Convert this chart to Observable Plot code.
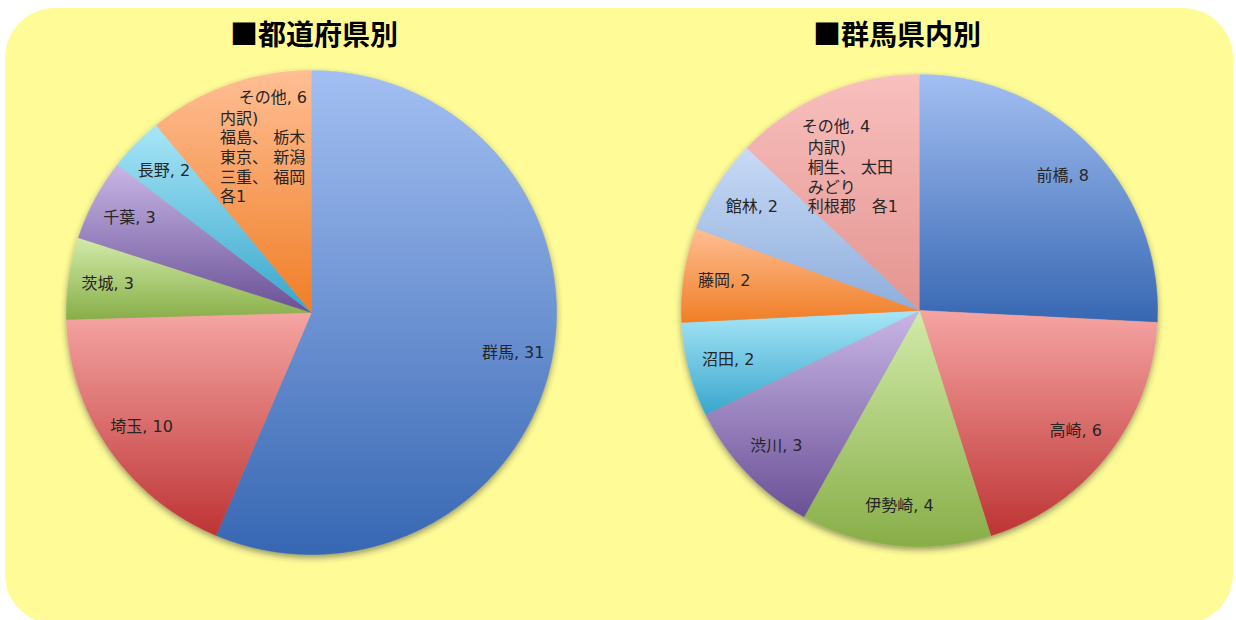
<!DOCTYPE html>
<html><head><meta charset="utf-8">
<script src="https://cdn.jsdelivr.net/npm/d3@7"></script>
<script src="https://cdn.jsdelivr.net/npm/@observablehq/plot@0.6"></script>
<style>
html,body{margin:0;padding:0;background:#fff;width:1236px;height:620px;overflow:hidden;position:relative;}
#bg{position:absolute;left:5px;top:8px;width:1228px;height:616px;border-radius:50px;background:#FFFC98;}
.title{position:absolute;top:13px;font:bold 28px "Noto Sans CJK JP",sans-serif;color:#000;white-space:nowrap;transform:translateX(-50%);line-height:40px;}
.chart{position:absolute;top:0;}
</style></head><body>
<div id="bg"></div>
<div id="t1" class="title" style="left:314px"></div>
<div id="t2" class="title" style="left:897px"></div>
<div id="c1" class="chart" style="left:0px"></div>
<div id="c2" class="chart" style="left:618px"></div>
<script>
// ---- data ----
const titles = ["■都道府県別", "■群馬県内別"];
const prefNames = ["群馬", "埼玉", "茨城", "千葉", "長野", "その他"];
const prefValues = [31, 10, 3, 3, 2, 6];
const prefOtherDetail = ["内訳)", "福島、 栃木", "東京、 新潟", "三重、 福岡", "各1"];
const cityNames = ["前橋", "高崎", "伊勢崎", "渋川", "沼田", "藤岡", "館林", "その他"];
const cityValues = [8, 6, 4, 3, 2, 2, 2, 4];
const cityOtherDetail = ["内訳)", "桐生、 太田", "みどり", "利根郡　各1"];

// ---- styles ----
const paletteLight = ["#A3BFF2", "#F5A5A3", "#D2EBAA", "#C9B6E6", "#A8E6F8", "#FFBE94", "#C8DAF6", "#F8C0BE"];
const paletteDark  = ["#3767B3", "#BE3434", "#88AE48", "#6A5096", "#38A6CC", "#F07E26", "#8EAEDC", "#E49490"];
const FONT = "'DejaVu Sans', 'Noto Sans CJK JP', sans-serif";

document.getElementById("t1").textContent = titles[0];
document.getElementById("t2").textContent = titles[1];

function pieChart(id, names, values, detail, geom) {
  const total = d3.sum(values);
  let acc = 0;
  const slices = names.map((n, i) => {
    const a0 = acc / total * 2 * Math.PI; acc += values[i];
    const a1 = acc / total * 2 * Math.PI;
    return {name: n, value: values[i], a0, a1, mid: (a0 + a1) / 2, fill: `url(#${id}-g${i})`};
  });
  const pts = [];
  for (const s of slices) {
    pts.push({slice: s.name, fill: s.fill, x: 0, y: 0});
    const n = Math.max(2, Math.ceil((s.a1 - s.a0) / (Math.PI / 360)));
    for (let k = 0; k <= n; k++) {
      const a = s.a0 + (s.a1 - s.a0) * k / n;
      pts.push({slice: s.name, fill: s.fill, x: Math.sin(a), y: Math.cos(a)});
    }
  }
  const main = slices.slice(0, -1).map(s => ({
    x: Math.sin(s.mid) * geom.labelR, y: Math.cos(s.mid) * geom.labelR, text: `${s.name}, ${s.value}`
  }));
  const other = slices[slices.length - 1];
  const oa = {x: Math.sin(other.mid) * geom.otherR, y: Math.cos(other.mid) * geom.otherR};
  const otherHead = [{...oa, text: `${other.name}, ${other.value}`}];
  const otherBody = [{...oa, text: detail.join("\n")}];

  const svg = Plot.plot({
    width: 618, height: 620, margin: 0,
    style: {fontFamily: FONT, background: "transparent", overflow: "visible"},
    x: {domain: [-1, 1], range: [geom.cx - geom.rx, geom.cx + geom.rx], axis: null},
    y: {domain: [-1, 1], range: [geom.cy + geom.ry, geom.cy - geom.ry], axis: null},
    color: {type: "identity"},
    marks: [
      Plot.line(pts, {x: "x", y: "y", z: "slice", fill: "fill", stroke: "fill", strokeWidth: 0.5, curve: "linear"}),
      Plot.text(main, {x: "x", y: "y", text: "text", fontSize: 16, fill: "#262626", fontFamily: FONT}),
      Plot.text(otherHead, {x: "x", y: "y", text: "text", fontSize: 16, fill: "#262626", fontFamily: FONT,
        textAnchor: geom.headAnchor, dx: geom.headDx, dy: geom.headDy}),
      Plot.text(otherBody, {x: "x", y: "y", text: "text", fontSize: 16, fill: "#262626", fontFamily: FONT,
        textAnchor: "start", lineAnchor: "middle", lineHeight: 1.23, dx: geom.bodyDx, dy: geom.bodyDy})
    ]
  });
  const root = d3.select(svg);
  const defs = root.insert("defs", ":first-child");
  slices.forEach((s, i) => {
    const g = defs.append("linearGradient").attr("id", `${id}-g${i}`)
      .attr("x1", 0).attr("y1", 0).attr("x2", 0).attr("y2", 1);
    g.append("stop").attr("offset", "0%").attr("stop-color", paletteLight[i]);
    g.append("stop").attr("offset", "100%").attr("stop-color", paletteDark[i]);
  });
  const f = defs.append("filter").attr("id", `${id}-sh`)
    .attr("x", "-10%").attr("y", "-10%").attr("width", "120%").attr("height", "125%");
  f.append("feDropShadow").attr("dx", 0).attr("dy", 3).attr("stdDeviation", 3)
    .attr("flood-color", "#333").attr("flood-opacity", 0.5);
  root.select('g[aria-label="line"]').attr("filter", `url(#${id}-sh)`);
  return svg;
}

document.getElementById("c1").appendChild(pieChart("p1", prefNames, prefValues, prefOtherDetail,
  {cx: 311, cy: 312, rx: 245, ry: 242, labelR: 0.84, otherR: 0.71,
   headAnchor: "end", headDx: 54, headDy: -53, bodyDx: -33, bodyDy: 6}));
document.getElementById("c2").appendChild(pieChart("p2", cityNames, cityValues, cityOtherDetail,
  {cx: 301, cy: 310, rx: 238, ry: 236, labelR: 0.83, otherR: 0.71,
   headAnchor: "start", headDx: -51, headDy: -30, bodyDx: -45, bodyDy: 20}));
</script>
</body></html>
